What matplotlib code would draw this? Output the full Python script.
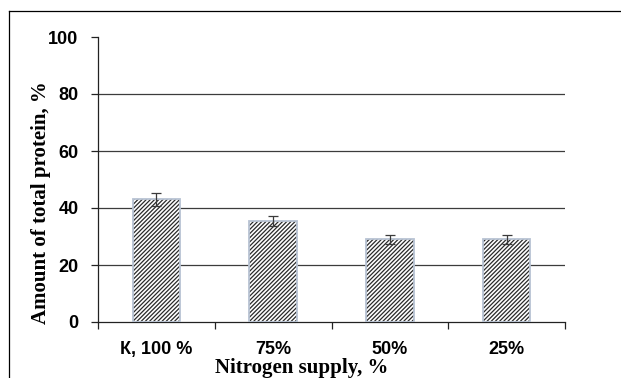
import matplotlib
matplotlib.use("Agg")
import matplotlib.pyplot as plt
from matplotlib.lines import Line2D
import numpy as np

categories = ["К, 100 %", "75%", "50%", "25%"]
protein = [43.0, 35.5, 29.0, 29.0]
errors = [2.3, 1.8, 1.6, 1.6]
y_ticks = [0, 20, 40, 60, 80, 100]

W, H, DPI = 621, 378, 100
plt.rcParams["hatch.linewidth"] = 0.9
plt.rcParams["hatch.color"] = "#2a2a2a"

fig = plt.figure(figsize=(W / DPI, H / DPI), dpi=DPI)
ax = fig.add_axes([98 / W, 1 - 322 / H, (565 - 98) / W, (322 - 37) / H])

x = np.arange(len(categories))
bar_w = 0.405

# hatched fill
ax.bar(x, protein, width=bar_w, color="white", edgecolor="#2a2a2a",
       hatch="////////", linewidth=0, zorder=3)
# light outline
ax.bar(x, protein, width=bar_w, fill=False, edgecolor="#b8c3d3",
       linewidth=1.3, zorder=4)
ax.errorbar(x, protein, yerr=errors, fmt="none", ecolor="#3a3a3a",
            elinewidth=0.9, capsize=3.5, capthick=0.9, zorder=5)

ax.set_xlim(-0.5, len(categories) - 0.5)
ax.set_ylim(0, 100)
ax.set_yticks(y_ticks)
for v in y_ticks[1:-1]:
    ax.axhline(v, color="#3c3c3c", linewidth=0.9, zorder=1)

tick_font = dict(family="Liberation Sans", weight="bold", size=13)
ax.set_yticklabels([str(v) for v in y_ticks], **tick_font)
ax.tick_params(axis="y", direction="out", length=5, width=0.9, pad=9,
               color="#222222")

ax.set_xticks(np.arange(len(categories) + 1) - 0.5)
ax.set_xticklabels([])
ax.tick_params(axis="x", which="major", direction="out", length=5,
               width=0.9, color="#222222")
ax.set_xticks(x, minor=True)
ax.set_xticklabels(categories, minor=True, **tick_font)
ax.tick_params(axis="x", which="minor", length=0, pad=14)

for side in ("top", "right"):
    ax.spines[side].set_visible(False)
for side in ("left", "bottom"):
    ax.spines[side].set_color("#222222")
    ax.spines[side].set_linewidth(0.9)

label_font = dict(family="Liberation Serif", weight="bold", size=15)
fig.text(41 / W, 1 - 203 / H, "Amount of total protein, %", rotation=90,
         ha="center", va="center", **label_font)
fig.text(302 / W, 1 - 373 / H, "Nitrogen supply, %", ha="center",
         va="baseline", **label_font)

# outer frame
fig.add_artist(Line2D([9 / W, 9 / W], [0, 1 - 11 / H], transform=fig.transFigure,
                      color="black", linewidth=0.9))
fig.add_artist(Line2D([9 / W, 1], [1 - 11 / H, 1 - 11 / H], transform=fig.transFigure,
                      color="black", linewidth=0.9))

fig.savefig("out.png", dpi=DPI, facecolor="white")
